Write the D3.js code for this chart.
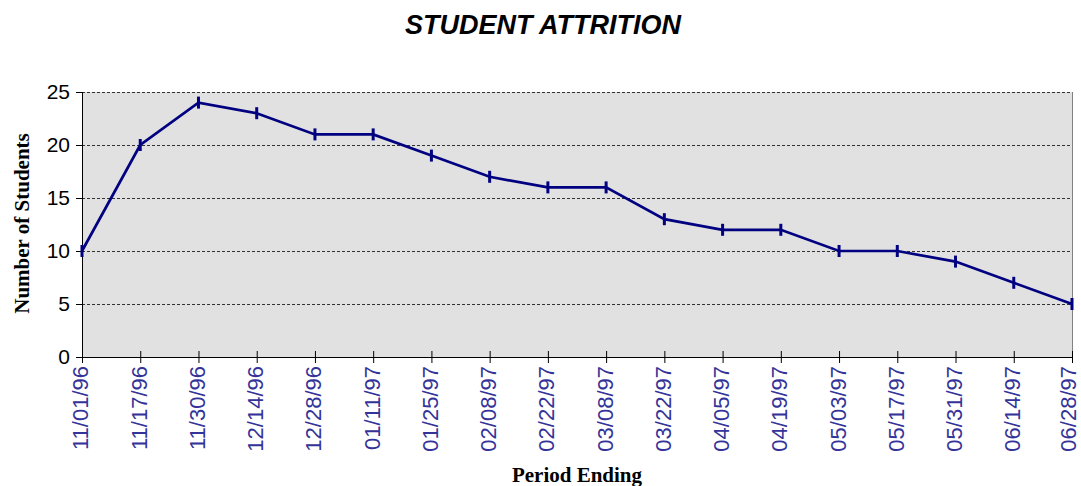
<!DOCTYPE html>
<html>
<head>
<meta charset="utf-8">
<script src="https://cdn.jsdelivr.net/npm/d3@7"></script>
<style>
  body { margin: 0; background: #fff; }
</style>
</head>
<body>
<div id="wrapper"></div>
<script>
const periods = ['11/01/96', '11/17/96', '11/30/96', '12/14/96', '12/28/96', '01/11/97',
  '01/25/97', '02/08/97', '02/22/97', '03/08/97', '03/22/97', '04/05/97', '04/19/97',
  '05/03/97', '05/17/97', '05/31/97', '06/14/97', '06/28/97'];
const students = [10, 20, 24, 23, 21, 21, 19, 17, 16, 16, 13, 12, 12, 10, 10, 9, 7, 5];
const yTicks = [0, 5, 10, 15, 20, 25];

const dataset = periods.map((p, i) => ({ period: p, value: students[i] }));
const xAccessor = (d) => d.period;
const yAccessor = (d) => d.value;

let dimensions = {
  width: 1081,
  height: 486,
  margin: { top: 92, right: 9, bottom: 129, left: 82 },
};
dimensions.boundedWidth = dimensions.width - dimensions.margin.left - dimensions.margin.right;
dimensions.boundedHeight = dimensions.height - dimensions.margin.top - dimensions.margin.bottom;

const xScale = d3.scalePoint().domain(periods).range([0, dimensions.boundedWidth]);
const yScale = d3.scaleLinear().domain([0, 25]).range([dimensions.boundedHeight, 0]);

const wrapper = d3.select('#wrapper').append('svg')
  .attr('width', dimensions.width)
  .attr('height', dimensions.height);

const bounds = wrapper.append('g')
  .attr('transform', `translate(${dimensions.margin.left}, ${dimensions.margin.top})`);

// plot background
bounds.append('rect')
  .attr('width', dimensions.boundedWidth)
  .attr('height', dimensions.boundedHeight)
  .attr('fill', '#e1e1e1');

// gridlines
bounds.append('g').selectAll('line')
  .data(yTicks.filter((t) => t > 0))
  .join('line')
  .attr('x1', 0)
  .attr('x2', dimensions.boundedWidth)
  .attr('y1', (d) => Math.round(yScale(d)) + 0.5)
  .attr('y2', (d) => Math.round(yScale(d)) + 0.5)
  .attr('stroke', '#333')
  .attr('stroke-dasharray', '3,2');

// right edge
bounds.append('line')
  .attr('x1', dimensions.boundedWidth + 0.5)
  .attr('x2', dimensions.boundedWidth + 0.5)
  .attr('y1', 0)
  .attr('y2', dimensions.boundedHeight)
  .attr('stroke', '#808080');

// axes
const yAxis = d3.axisLeft(yScale).tickValues(yTicks).tickSize(6).tickPadding(6);
const yAxisG = bounds.append('g').call(yAxis);
yAxisG.select('.domain').attr('stroke', '#000');
yAxisG.selectAll('.tick line').attr('stroke', '#000');
yAxisG.selectAll('.tick text')
  .attr('fill', '#000')
  .style('font-family', 'Arial, "Liberation Sans", sans-serif')
  .style('font-size', '21px');

const xAxis = d3.axisBottom(xScale).tickSizeInner(6).tickSizeOuter(0);
const xAxisG = bounds.append('g')
  .attr('transform', `translate(0, ${dimensions.boundedHeight})`)
  .call(xAxis);
xAxisG.select('.domain').attr('stroke', '#000');
xAxisG.selectAll('.tick line')
  .attr('y1', -6)
  .attr('y2', 6)
  .attr('stroke', '#000');
xAxisG.selectAll('.tick text')
  .attr('fill', '#333399')
  .attr('transform', 'rotate(-90)')
  .attr('text-anchor', 'end')
  .attr('x', -9)
  .attr('y', 0)
  // last label sits against the page edge, nudge it in a bit
  .attr('dy', (d, i) => (i === periods.length - 1 ? '0.14em' : '0.27em'))
  .style('font-family', 'Arial, "Liberation Sans", sans-serif')
  .style('font-size', '22px');

// line
const lineGenerator = d3.line()
  .x((d) => xScale(xAccessor(d)))
  .y((d) => yScale(yAccessor(d)));

bounds.append('path')
  .attr('d', lineGenerator(dataset))
  .attr('fill', 'none')
  .attr('stroke', '#000080')
  .attr('stroke-width', 2.7);

// markers
bounds.append('g').selectAll('line')
  .data(dataset)
  .join('line')
  .attr('x1', (d) => xScale(xAccessor(d)))
  .attr('x2', (d) => xScale(xAccessor(d)))
  .attr('y1', (d) => yScale(yAccessor(d)) - 6)
  .attr('y2', (d) => yScale(yAccessor(d)) + 6)
  .attr('stroke', '#000080')
  .attr('stroke-width', 3);

// title and labels
wrapper.append('text')
  .attr('x', 543)
  .attr('y', 34)
  .attr('text-anchor', 'middle')
  .style('font-family', 'Arial, "Liberation Sans", sans-serif')
  .style('font-size', '27px')
  .style('font-weight', 'bold')
  .style('font-style', 'italic')
  .text('STUDENT ATTRITION');

wrapper.append('text')
  .attr('transform', `translate(29, ${dimensions.margin.top + dimensions.boundedHeight / 2 - 1}) rotate(-90)`)
  .attr('text-anchor', 'middle')
  .style('font-family', '"Times New Roman", "Liberation Serif", serif')
  .style('font-size', '21px')
  .style('font-weight', 'bold')
  .text('Number of Students');

wrapper.append('text')
  .attr('x', 577)
  .attr('y', 482)
  .attr('text-anchor', 'middle')
  .style('font-family', '"Times New Roman", "Liberation Serif", serif')
  .style('font-size', '21px')
  .style('font-weight', 'bold')
  .text('Period Ending');
</script>
</body>
</html>
